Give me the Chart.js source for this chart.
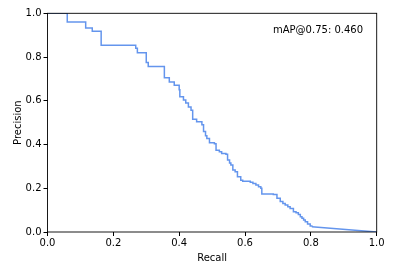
<!DOCTYPE html>
<html>
<head>
<meta charset="utf-8">
<script src="https://cdn.jsdelivr.net/npm/chart.js@4/dist/chart.umd.min.js"></script>
<style>
  html, body { margin: 0; padding: 0; background: #fff; }
  canvas { display: block; }
</style>
</head>
<body>
<canvas id="pr" width="397" height="264"></canvas>
<script>
// step points of the PR curve: precision holds from this recall until the next one
const recall = [0, 0.06, 0.116, 0.136, 0.163, 0.268, 0.273, 0.30, 0.306, 0.355,
  0.37, 0.385, 0.40, 0.402, 0.413, 0.42, 0.428, 0.436, 0.441, 0.453,
  0.469, 0.474, 0.48, 0.484, 0.492, 0.507, 0.512, 0.522, 0.529, 0.542,
  0.547, 0.553, 0.557, 0.563, 0.570, 0.577, 0.587, 0.593, 0.616, 0.624,
  0.633, 0.641, 0.648, 0.651, 0.686, 0.697, 0.707, 0.715, 0.722, 0.73,
  0.737, 0.747, 0.755, 0.762, 0.768, 0.773, 0.778, 0.783, 0.79, 0.798, 0.803];
const precision = [1.0, 0.96, 0.933, 0.918, 0.854, 0.84, 0.82, 0.775, 0.757, 0.705,
  0.686, 0.671, 0.651, 0.618, 0.603, 0.59, 0.572, 0.557, 0.515, 0.504,
  0.49, 0.46, 0.44, 0.428, 0.408, 0.403, 0.374, 0.367, 0.359, 0.356,
  0.329, 0.315, 0.306, 0.283, 0.275, 0.253, 0.237, 0.232, 0.228, 0.222,
  0.215, 0.207, 0.2, 0.174, 0.172, 0.154, 0.139, 0.13, 0.123, 0.115,
  0.108, 0.093, 0.088, 0.08, 0.07, 0.063, 0.055, 0.047, 0.037, 0.027, 0.024];
// last stretch is a straight line to recall 1
const tailRecall = [0.803, 1.0];
const tailPrecision = [0.024, 0.0];

const mapLabel = "mAP@0.75: 0.460";

const lineColor = "#6495ed";
const fontFamily = "'DejaVu Sans', sans-serif";

function toPoints(xs, ys) {
  return xs.map((x, i) => ({ x: x, y: ys[i] }));
}

// box around the axes plus the mAP annotation
const framePlugin = {
  id: "frame",
  afterDatasetsDraw(chart) {
    const { ctx, chartArea: a, scales } = chart;
    ctx.save();
    ctx.strokeStyle = "#000";
    ctx.lineWidth = 0.9;
    ctx.strokeRect(a.left, a.top, a.right - a.left, a.bottom - a.top);
    ctx.fillStyle = "#000";
    ctx.font = "10px " + fontFamily;
    ctx.textAlign = "left";
    ctx.textBaseline = "middle";
    ctx.fillText(mapLabel, scales.x.getPixelForValue(0.685), scales.y.getPixelForValue(0.92));
    ctx.restore();
  }
};

const tickFont = { family: fontFamily, size: 10 };
const fmt = v => Number(v).toFixed(1);

new Chart(document.getElementById("pr").getContext("2d"), {
  type: "scatter",
  data: {
    datasets: [
      // 'before' = horizontal run first, then the drop
      { data: toPoints(recall, precision), showLine: true, stepped: "before",
        borderColor: lineColor, borderWidth: 1.5, pointRadius: 0, fill: false },
      { data: toPoints(tailRecall, tailPrecision), showLine: true,
        borderColor: lineColor, borderWidth: 1.5, pointRadius: 0, fill: false }
    ]
  },
  options: {
    responsive: false,
    animation: false,
    layout: { padding: { left: 0, right: 20.3, top: 13.3, bottom: 0 } },
    plugins: { legend: { display: false }, tooltip: { enabled: false } },
    scales: {
      x: {
        type: "linear", min: 0, max: 1,
        ticks: { stepSize: 0.2, color: "#000", font: tickFont, callback: fmt, padding: 1, maxRotation: 0 },
        grid: { drawOnChartArea: false, tickLength: 4, tickColor: "#000" },
        border: { display: false },
        title: { display: true, text: "Recall", color: "#000",
          font: tickFont, padding: { top: 4, bottom: 0 } },
        afterFit: s => { s.height = 32; }
      },
      y: {
        type: "linear", min: 0, max: 1,
        ticks: { stepSize: 0.2, color: "#000", font: tickFont, callback: fmt, padding: 2 },
        grid: { drawOnChartArea: false, tickLength: 4, tickColor: "#000" },
        border: { display: false },
        title: { display: true, text: "Precision", color: "#000",
          font: tickFont, padding: { top: 12, bottom: 0 } },
        afterFit: s => { s.width = 47.5; }
      }
    }
  },
  plugins: [framePlugin]
});
</script>
</body>
</html>
